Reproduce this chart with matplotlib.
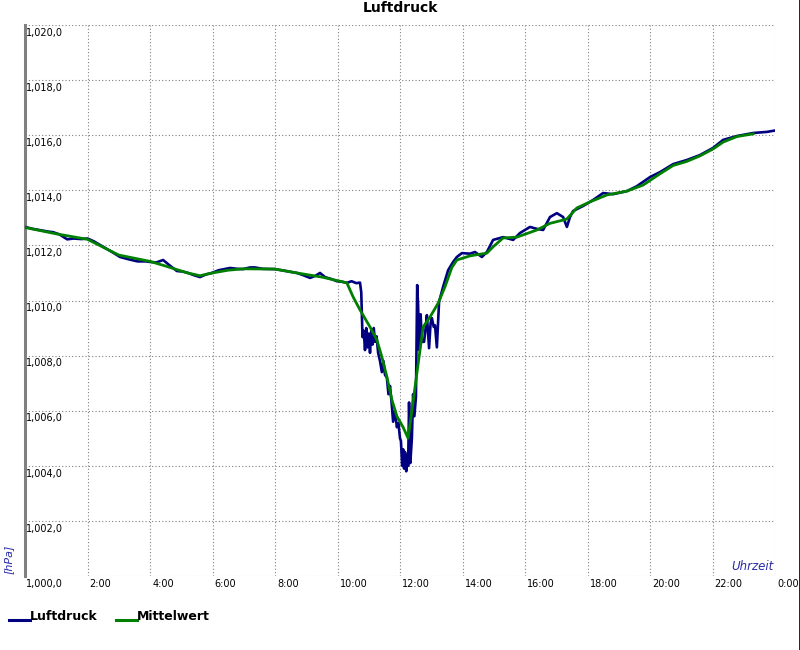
import numpy as np
import matplotlib
matplotlib.use("Agg")
import matplotlib.pyplot as plt
from matplotlib.lines import Line2D

# Luftdruck readings (hour of day, hPa)
druck_zeit = [
    0.00, 0.25, 0.50, 0.75, 0.90, 1.10, 1.35, 1.55, 1.80, 2.00, 2.20, 2.50,
    2.80, 3.04, 3.30, 3.60, 3.85, 4.00, 4.20, 4.42, 4.60, 4.86, 5.05, 5.22,
    5.40, 5.60, 5.80, 5.98, 6.20, 6.56, 6.80, 6.98, 7.20, 7.36, 7.60, 8.00,
    8.30, 8.70, 8.90, 9.12, 9.30, 9.44, 9.60, 9.80, 9.98, 10.15, 10.30, 10.45,
    10.60, 10.72, 10.76, 10.80, 10.84, 10.88, 10.92, 10.96, 11.00, 11.04, 11.08,
    11.12, 11.16, 11.20, 11.25, 11.30, 11.36, 11.42, 11.47, 11.52, 11.58, 11.63,
    11.68, 11.73, 11.78, 11.84, 11.90, 11.95, 12.00, 12.03, 12.07, 12.10, 12.13,
    12.16, 12.20, 12.23, 12.26, 12.29, 12.33, 12.38, 12.42, 12.46, 12.51, 12.55,
    12.58, 12.61, 12.66, 12.70, 12.77, 12.82, 12.86, 12.93, 12.98, 13.02, 13.08,
    13.12, 13.18, 13.25, 13.38, 13.54, 13.70, 13.82, 13.98, 14.24, 14.40, 14.62,
    14.78, 14.98, 15.30, 15.62, 15.84, 16.16, 16.38, 16.58, 16.80, 17.02, 17.22,
    17.34, 17.44, 17.54, 17.86, 18.18, 18.50, 18.82, 19.26, 19.58, 20.00, 20.32,
    20.74, 21.18, 21.60, 22.02, 22.34, 22.78, 23.30, 23.74, 24.00,
]
druck_wert = [
    1012.67, 1012.60, 1012.55, 1012.50, 1012.48, 1012.40, 1012.22, 1012.25,
    1012.23, 1012.25, 1012.15, 1011.95, 1011.75, 1011.58, 1011.50, 1011.42,
    1011.42, 1011.40, 1011.38, 1011.47, 1011.30, 1011.07, 1011.05, 1011.00,
    1010.92, 1010.85, 1010.95, 1011.00, 1011.10, 1011.18, 1011.15, 1011.14,
    1011.20, 1011.20, 1011.15, 1011.14, 1011.08, 1011.00, 1010.92, 1010.82,
    1010.90, 1011.00, 1010.85, 1010.78, 1010.70, 1010.68, 1010.64, 1010.70,
    1010.63, 1010.65, 1010.30, 1008.67, 1008.90, 1008.20, 1009.00, 1008.30,
    1008.80, 1008.10, 1008.90, 1008.40, 1009.00, 1008.50, 1008.70, 1008.10,
    1007.80, 1007.40, 1007.80, 1007.30, 1007.20, 1006.60, 1006.90, 1006.30,
    1005.60, 1006.00, 1005.40, 1005.55, 1005.00, 1004.90, 1004.00, 1004.60,
    1003.90, 1004.50, 1003.80, 1004.40, 1004.00, 1006.30, 1004.10, 1005.00,
    1006.60, 1005.80, 1006.50, 1010.56, 1009.80, 1008.20, 1009.50, 1008.50,
    1008.50, 1009.00, 1009.47, 1008.27, 1009.20, 1009.36, 1009.04, 1009.10,
    1008.30, 1009.95, 1010.50, 1011.10, 1011.40, 1011.58, 1011.72, 1011.70,
    1011.76, 1011.58, 1011.76, 1012.20, 1012.30, 1012.20, 1012.45, 1012.67,
    1012.60, 1012.56, 1013.03, 1013.17, 1013.03, 1012.67, 1013.03, 1013.25,
    1013.43, 1013.65, 1013.90, 1013.86, 1013.97, 1014.15, 1014.48, 1014.66,
    1014.95, 1015.10, 1015.28, 1015.54, 1015.83, 1015.97, 1016.08, 1016.12,
    1016.17,
]

# Mittelwert (smoothed)
mittel_zeit = [
    0.0, 1.0, 2.0, 3.0, 4.0, 4.5, 5.2, 5.6, 6.0, 6.5, 7.0, 8.0, 8.7, 9.5,
    10.0, 10.3, 10.5, 10.72, 11.04, 11.26, 11.42, 11.58, 11.74, 11.9, 12.1,
    12.26, 12.38, 12.51, 12.61, 12.74, 12.96, 13.22, 13.44, 13.66, 13.82,
    14.24, 14.78, 14.98, 15.3, 15.74, 16.38, 16.8, 17.22, 17.34, 17.66, 18.08,
    18.62, 19.26, 19.78, 20.32, 20.74, 21.18, 21.6, 22.02, 22.34, 22.78, 23.3,
]
mittel_wert = [
    1012.65, 1012.42, 1012.22, 1011.65, 1011.42, 1011.25, 1011.00, 1010.90,
    1011.00, 1011.10, 1011.15, 1011.14, 1011.00, 1010.85, 1010.72, 1010.64,
    1010.13, 1009.66, 1009.04, 1008.57, 1007.95, 1007.23, 1006.40, 1005.80,
    1005.40, 1005.00, 1006.00, 1007.10, 1007.95, 1009.04, 1009.40, 1009.90,
    1010.50, 1011.20, 1011.47, 1011.62, 1011.72, 1011.95, 1012.27, 1012.30,
    1012.56, 1012.80, 1012.92, 1012.96, 1013.36, 1013.58, 1013.83, 1013.97,
    1014.19, 1014.60, 1014.90, 1015.05, 1015.25, 1015.50, 1015.75, 1015.95,
    1016.05,
]

y_ticks = list(range(1000, 1021, 2))
x_ticks = list(range(0, 25, 2))
x_labels = ["", "2:00", "4:00", "6:00", "8:00", "10:00", "12:00", "14:00",
            "16:00", "18:00", "20:00", "22:00", "0:00"]

blau = "#000080"
gruen = "#008000"
label_blau = "#2a2aa8"

plt.rcParams["font.family"] = "DejaVu Sans"

fig = plt.figure(figsize=(8, 6.5), dpi=100)
ax = fig.add_axes([25 / 800, 1 - 576 / 650, 750 / 800, 551 / 650])

ax.plot(druck_zeit, druck_wert, color=blau, linewidth=1.9, zorder=3)
ax.plot(mittel_zeit, mittel_wert, color=gruen, linewidth=2.0, zorder=4)

ax.set_xlim(0, 24)
ax.set_ylim(1000, 1020)
ax.set_xticks(x_ticks)
ax.set_yticks(y_ticks)
ax.set_xticklabels([])
ax.set_yticklabels([])
ax.tick_params(length=0)
ax.grid(True, color="#808080", linestyle=(0, (1, 2)), linewidth=0.8)

for side in ["top", "right", "bottom"]:
    ax.spines[side].set_visible(False)
ax.spines["left"].set_color("#808080")
ax.spines["left"].set_linewidth(2.2)

# y labels inside the plot, under each grid line
for v in y_ticks:
    ax.annotate(f"{v:,.1f}".replace(".", ","), xy=(0, v), xycoords="data",
                xytext=(1, -2), textcoords="offset points",
                ha="left", va="top", fontsize=7, color="black")

# x labels right of each grid line
for t, lab in zip(x_ticks, x_labels):
    if lab:
        ax.annotate(lab, xy=(t, 1000), xycoords="data",
                    xytext=(1.5, -2), textcoords="offset points",
                    ha="left", va="top", fontsize=7, color="black",
                    annotation_clip=False)

fig.text(0.5, 1 - 8 / 650, "Luftdruck", ha="center", va="center",
         fontsize=10, fontweight="bold")
fig.text(8.5 / 800, 1 - 559 / 650, "[hPa]", rotation=90, ha="center",
         va="center", fontsize=8, style="italic", color=label_blau)
fig.text(774 / 800, 1 - 567 / 650, "Uhrzeit", ha="right", va="center",
         fontsize=8.5, style="italic", color=label_blau)

# legend below the plot
ly = 1 - 620 / 650
fig.add_artist(Line2D([9 / 800, 30 / 800], [ly, ly], color=blau, linewidth=2.2))
fig.text(30 / 800, 1 - 617 / 650, "Luftdruck", ha="left", va="center",
         fontsize=9, fontweight="bold")
fig.add_artist(Line2D([116 / 800, 137 / 800], [ly, ly], color=gruen, linewidth=2.2))
fig.text(137 / 800, 1 - 617 / 650, "Mittelwert", ha="left", va="center",
         fontsize=9, fontweight="bold")

# thin black frame line on the right edge
fig.add_artist(Line2D([799.5 / 800, 799.5 / 800], [0, 1], color="black", linewidth=1.2))

fig.savefig("out.png", dpi=100)
